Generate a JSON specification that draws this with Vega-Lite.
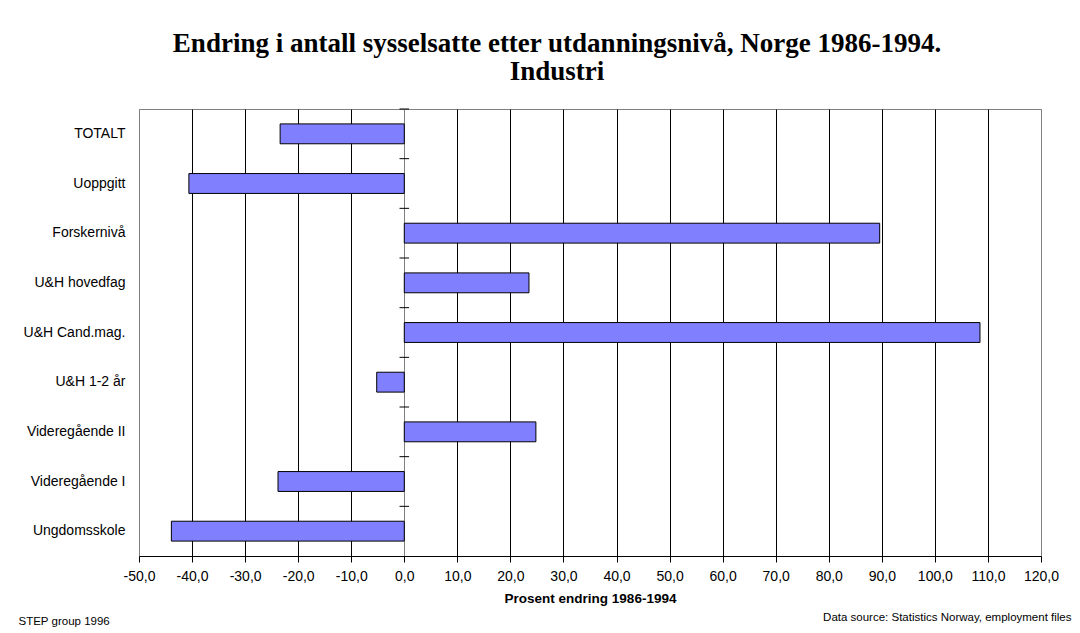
{
  "$schema": "https://vega.github.io/schema/vega-lite/v6.json",
  "width": 902,
  "height": 447,
  "autosize": "none",
  "padding": {"left": 139, "top": 109, "right": 39, "bottom": 77},
  "background": "white",
  "title": {
    "text": ["Endring i antall sysselsatte etter utdanningsnivå, Norge 1986-1994.", "Industri"],
    "font": "Liberation Serif",
    "fontSize": 27,
    "fontWeight": "bold",
    "lineHeight": 28,
    "anchor": "middle",
    "dx": -33,
    "offset": 23,
    "color": "black"
  },
  "config": {"view": {"stroke": "#808080", "strokeWidth": 1}},
  "data": {
    "values": [
      {"cat": "TOTALT", "val": -23.4},
      {"cat": "Uoppgitt", "val": -40.6},
      {"cat": "Forskernivå", "val": 89.6},
      {"cat": "U&H hovedfag", "val": 23.5},
      {"cat": "U&H Cand.mag.", "val": 108.5},
      {"cat": "U&H 1-2 år", "val": -5.2},
      {"cat": "Videregående II", "val": 24.8},
      {"cat": "Videregående I", "val": -23.8},
      {"cat": "Ungdomsskole", "val": -43.9}
    ]
  },
  "layer": [
    {
      "mark": {"type": "bar", "fill": "#8080FF", "stroke": "black", "strokeWidth": 1, "height": {"band": 0.4}},
      "encoding": {
        "y": {
          "field": "cat",
          "type": "nominal",
          "sort": null,
          "scale": {"paddingInner": 0, "paddingOuter": 0},
          "axis": {
            "labelFont": "Liberation Sans",
            "labelFontSize": 14,
            "labelColor": "black",
            "labelPadding": 14,
            "ticks": false,
            "domain": false,
            "grid": false,
            "title": "STEP group 1996",
            "titleAngle": 0,
            "titleFont": "Liberation Sans",
            "titleFontSize": 11.5,
            "titleFontWeight": "normal",
            "titleColor": "black",
            "titleAlign": "left",
            "titleBaseline": "middle",
            "titleX": -121,
            "titleY": 512
          }
        },
        "x": {
          "field": "val",
          "type": "quantitative",
          "scale": {"domain": [-50, 120], "nice": false, "zero": false},
          "axis": {
            "orient": "bottom",
            "values": [-50, -40, -30, -20, -10, 0, 10, 20, 30, 40, 50, 60, 70, 80, 90, 100, 110, 120],
            "labelExpr": "datum.value + ',0'",
            "labelFlush": false,
            "labelFont": "Liberation Sans",
            "labelFontSize": 14,
            "labelColor": "black",
            "labelPadding": 7,
            "tickSize": 6,
            "tickColor": "black",
            "domainColor": "black",
            "grid": true,
            "gridColor": {"condition": {"test": "datum.value == -50 || datum.value == 120 || datum.value == 0", "value": "#808080"}, "value": "black"},
            "gridOpacity": 1,
            "gridWidth": 1,
            "title": "Prosent endring 1986-1994",
            "titleFont": "Liberation Sans",
            "titleFontSize": 13.5,
            "titleFontWeight": "bold",
            "titleColor": "black",
            "titlePadding": 8
          }
        }
      }
    },
    {
      "mark": {"type": "rule", "color": "black", "strokeWidth": 1},
      "encoding": {
        "y": {"field": "cat", "type": "nominal", "sort": null, "bandPosition": 0},
        "x": {"datum": -0.9, "axis": null},
        "x2": {"datum": 0.9}
      }
    },
    {
      "mark": {"type": "point", "opacity": 0},
      "encoding": {
        "y": {"field": "cat", "type": "nominal", "sort": null},
        "x": {
          "field": "val",
          "type": "quantitative",
          "axis": {
            "orient": "top",
            "labels": false,
            "ticks": false,
            "domain": false,
            "grid": false,
            "title": "Data source: Statistics Norway, employment files",
            "titleFont": "Liberation Sans",
            "titleFontSize": 11.5,
            "titleFontWeight": "normal",
            "titleColor": "black",
            "titleAlign": "right",
            "titleBaseline": "middle",
            "titleX": 932,
            "titleY": 508
          }
        }
      }
    }
  ],
  "resolve": {"axis": {"x": "independent"}}
}
